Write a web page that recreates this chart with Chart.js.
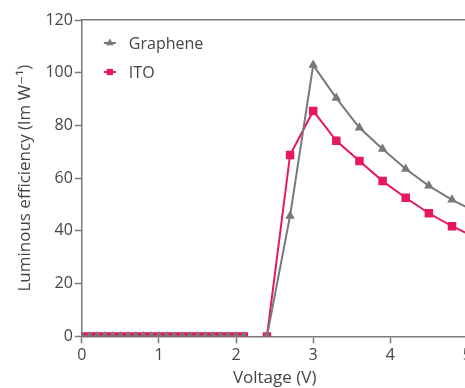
<!DOCTYPE html>
<html>
<head>
<meta charset="utf-8">
<script src="https://cdn.jsdelivr.net/npm/chart.js@4"></script>
<style>
  html, body { margin: 0; padding: 0; background: #fff; overflow: hidden; }
  #wrap { position: relative; width: 474px; height: 388px; }
</style>
</head>
<body>
<div id="wrap"><canvas id="chart"></canvas></div>
<script>
// voltages (V); 2.25 is a break in the line
const voltage = [0, 0.1, 0.2, 0.3, 0.4, 0.5, 0.6, 0.7, 0.8, 0.9, 1.0,
                 1.1, 1.2, 1.3, 1.4, 1.5, 1.6, 1.7, 1.8, 1.9, 2.0, 2.1,
                 2.25, 2.4, 2.7, 3.0, 3.3, 3.6, 3.9, 4.2, 4.5, 4.8, 5.1];
const graphene = [0, 0, 0, 0, 0, 0, 0, 0, 0, 0, 0,
                  0, 0, 0, 0, 0, 0, 0, 0, 0, 0, 0,
                  null, 0, 45.7, 102.9, 90.4, 79.1, 71.1, 63.5, 57.1, 51.8, 47.4];
const ito = [0, 0, 0, 0, 0, 0, 0, 0, 0, 0, 0,
             0, 0, 0, 0, 0, 0, 0, 0, 0, 0, 0,
             null, 0, 68.8, 85.5, 74.2, 66.5, 58.9, 52.6, 46.7, 41.8, 37.6];
const xTicks = [0, 1, 2, 3, 4, 5];
const yTicks = [0, 20, 40, 60, 80, 100, 120];

const GRAY = '#787878';
const PINK = '#e8185c';
const AXIS = '#7a7a7a';
const TEXT = '#454545';
const FONT = "'Open Sans', 'DejaVu Sans', sans-serif";

function pts(ys) {
    return voltage.map((v, i) => ({ x: v, y: ys[i] }));
}

// legend drawn inside the plot, line + marker + label
const insideLegend = {
    id: 'insideLegend',
    afterDatasetsDraw(chart) {
        const ctx = chart.ctx;
        const area = chart.chartArea;
        chart.data.datasets.forEach((ds, i) => {
            const x0 = area.left + 22;
            const y = area.top + 23 + i * 29;
            ctx.save();
            ctx.strokeStyle = ds.borderColor;
            ctx.lineWidth = 2;
            ctx.beginPath();
            ctx.moveTo(x0, y);
            ctx.lineTo(x0 + 12, y);
            ctx.stroke();
            ctx.fillStyle = ds.pointBackgroundColor;
            Chart.helpers.drawPoint(ctx, {
                pointStyle: ds.pointStyle,
                rotation: 0,
                radius: 4.5,
                borderWidth: 0
            }, x0 + 6, y);
            ctx.fillStyle = TEXT;
            ctx.font = '16px ' + FONT;
            ctx.textBaseline = 'middle';
            ctx.textAlign = 'left';
            ctx.fillText(ds.label, x0 + 25, y + 1);
            ctx.restore();
        });
    }
};

const ctx = document.getElementById('chart').getContext('2d');
new Chart(ctx, {
    type: 'line',
    data: {
        datasets: [
            {
                label: 'Graphene',
                data: pts(graphene),
                borderColor: GRAY,
                backgroundColor: GRAY,
                pointBackgroundColor: GRAY,
                pointBorderWidth: 0,
                pointStyle: 'triangle',
                pointRadius: 5.5,
                borderWidth: 2,
                spanGaps: false,
                clip: 0
            },
            {
                label: 'ITO',
                data: pts(ito),
                borderColor: PINK,
                backgroundColor: PINK,
                pointBackgroundColor: PINK,
                pointBorderWidth: 0,
                pointStyle: 'rect',
                pointRadius: 6,
                borderWidth: 2,
                spanGaps: false,
                clip: 0
            }
        ]
    },
    options: {
        responsive: true,
        maintainAspectRatio: false,
        animation: false,
        layout: { padding: { top: 20, left: 8, right: 0, bottom: 0 } },
        plugins: {
            legend: { display: false },
            tooltip: { enabled: false }
        },
        scales: {
            x: {
                type: 'linear',
                min: 0,
                max: 5,
                afterBuildTicks: axis => { axis.ticks = xTicks.map(v => ({ value: v })); },
                ticks: { color: TEXT, font: { family: FONT, size: 16 }, padding: 2, maxRotation: 0 },
                grid: { drawOnChartArea: false, tickLength: 7, color: AXIS, tickWidth: 1.5 },
                border: { color: AXIS, width: 1.5 },
                title: {
                    display: true,
                    text: 'Voltage (V)',
                    color: TEXT,
                    font: { family: FONT, size: 17 },
                    padding: { top: 1, bottom: 0 }
                }
            },
            x2: {
                type: 'linear',
                position: 'top',
                min: 0,
                max: 5,
                ticks: { display: false },
                grid: { drawOnChartArea: false, drawTicks: false },
                border: { color: AXIS, width: 1.5 }
            },
            y: {
                min: 0,
                max: 120,
                afterBuildTicks: axis => { axis.ticks = yTicks.map(v => ({ value: v })); },
                ticks: { color: TEXT, font: { family: FONT, size: 16 }, padding: 2 },
                grid: { drawOnChartArea: false, tickLength: 7, color: AXIS, tickWidth: 1.5 },
                border: { color: AXIS, width: 1.5 },
                title: {
                    display: true,
                    text: 'Luminous efficiency (lm W⁻¹)',
                    color: TEXT,
                    font: { family: FONT, size: 17 },
                    padding: { top: 7, bottom: 8 }
                }
            }
        }
    },
    plugins: [insideLegend]
});
</script>
</body>
</html>
